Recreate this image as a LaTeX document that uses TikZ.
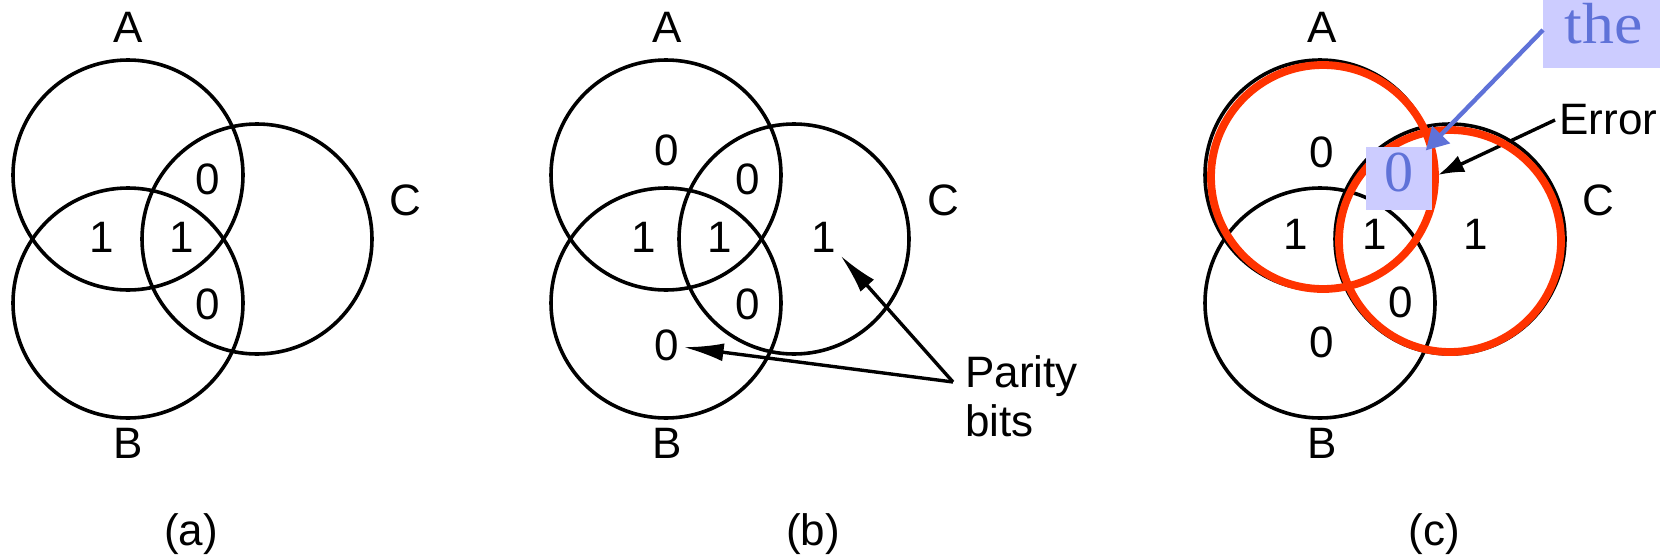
\documentclass[tikz,border=0pt]{standalone}
\usepackage{graphicx}
\usepackage{fontspec}
\setmainfont{Liberation Sans}
\newfontfamily\timesf{Liberation Serif}
\usetikzlibrary{arrows.meta}
\definecolor{hred}{HTML}{FF3300}
\definecolor{hblue}{HTML}{5F72D8}
\definecolor{hfill}{HTML}{CCCCFF}
\begin{document}
\begin{tikzpicture}[x=0.5pt,y=-0.5pt,
  vc/.style={circle,draw=black,line width=1.8pt,minimum size=115pt,inner sep=0pt},
  rc/.style={circle,draw=hred,line width=3.9pt,inner sep=0pt},
  lbl/.style={font=\fontsize{22pt}{26pt}\selectfont,inner sep=2pt},
  arr/.style={line width=1.7pt,-{Latex[length=20pt,width=9pt]}},
  arrsmall/.style={line width=1.7pt,-{Latex[length=13pt,width=9pt]}},
  bluebox/.style={fill=hfill,text=hblue,inner sep=0pt,
    font=\timesf\fontsize{29pt}{32pt}\selectfont,text height=19.7pt,text depth=6.4pt},
  bluearr/.style={draw=hblue,line width=2.2pt,-{Triangle[length=11pt,width=12pt]}},
]
\clip (0,0) rectangle (1660,557);
% ---------- panel (a)
\node[vc] (aA) at (128,175) {};
\node[vc] (aB) at (128,303) {};
\node[vc] (aC) at (257,239) {};
\node[lbl] (aAl) at (128,27) {A};
\node[lbl] (aBl) at (128,443) {B};
\node[lbl] (aCl) at (405,200) {C};
\node[lbl] (a0AC) at (208,179) {0};
\node[lbl] (a1AB) at (102,237) {1};
\node[lbl] (a1ABC) at (182,237) {1};
\node[lbl] (a0BC) at (208,304) {0};
\node[lbl] (acap) at (191,534) {(a)};
% ---------- panel (b)
\node[vc] (bA) at (666,175) {};
\node[vc] (bB) at (666,303) {};
\node[vc] (bC) at (794,239) {};
\node[lbl] (bAl) at (667,27) {A};
\node[lbl] (bBl) at (667,443) {B};
\node[lbl] (bCl) at (943,200) {C};
\node[lbl] (b0A) at (667,150) {0};
\node[lbl] (b0AC) at (748,179) {0};
\node[lbl] (b1AB) at (644,237) {1};
\node[lbl] (b1ABC) at (720,237) {1};
\node[lbl] (b1C) at (824,237) {1};
\node[lbl] (b0BC) at (748,304) {0};
\node[lbl] (b0B) at (667,345) {0};
\node[lbl,align=left,inner sep=0pt,anchor=west,
  font=\fontsize{22pt}{24.5pt}\selectfont] (parity) at (965,396) {Parity\\bits};
\coordinate (pb) at (953,382);
\draw[arr] (pb) -- (b0B);
\draw[arr] (pb) -- (b1C);
\node[lbl] (bcap) at (813,534) {(b)};
% ---------- panel (c)
\node[vc] (cA) at (1320,175) {};
\node[vc] (cB) at (1320,303) {};
\node[vc] (cC) at (1450,239) {};
\node[lbl] (cAl) at (1322,27) {A};
\node[lbl] (cBl) at (1322,443) {B};
\node[lbl] (cCl) at (1598,200) {C};
\node[lbl] (c0A) at (1322,152) {0};
\node[lbl] (c1AB) at (1296,234) {1};
\node[lbl] (c1ABC) at (1375,234) {1};
\node[lbl] (c1C) at (1476,234) {1};
\node[lbl] (c0BC) at (1401,302) {0};
\node[lbl] (c0B) at (1322,342) {0};
\node[lbl,anchor=west] (err) at (1555,120) {Error};
\coordinate (errtip) at (1438,175);
\draw[arrsmall] (err.west) -- (errtip);
\node[lbl] (ccap) at (1434,534) {(c)};
% red highlight circles
\node[rc,minimum size=112pt] (rA) at (1323,177) {};
\node[rc,minimum size=111pt] (rC) at (1450,241) {};
% blue callout
\node[bluebox,minimum width=33pt,minimum height=31.5pt] (cbox) at (1399,178) {0};
\node[bluebox,anchor=west,minimum height=38pt,inner xsep=10.5pt] (callout) at (1543,30) {\scalebox{1.1}[1]{the e}};
\draw[bluearr,shorten >=-3pt] (callout.west) -- (cbox);
\end{tikzpicture}
\end{document}
